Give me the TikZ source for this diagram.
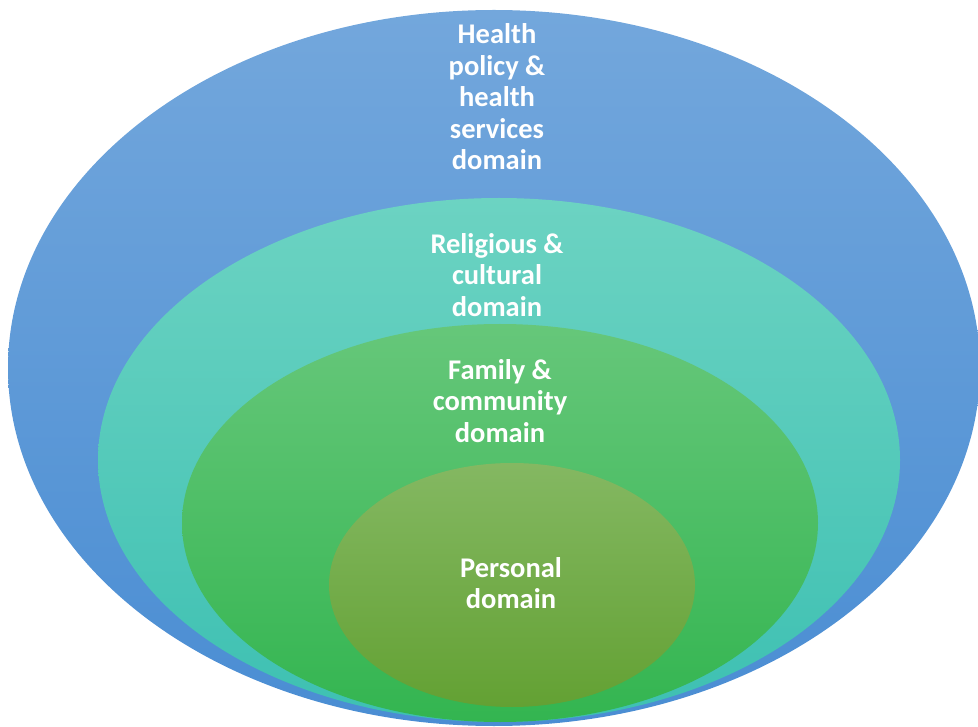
\documentclass[tikz,border=0pt]{standalone}
\usepackage{fontspec}
\setmainfont{Carlito}
\usetikzlibrary{shapes.geometric}
\definecolor{policyTop}{HTML}{73A7DC}
\definecolor{policyBot}{HTML}{4A8DD3}
\definecolor{cultureTop}{HTML}{6CD3C2}
\definecolor{cultureBot}{HTML}{3DC0B2}
\definecolor{familyTop}{HTML}{66C77A}
\definecolor{familyBot}{HTML}{33B550}
\definecolor{personTop}{HTML}{84B862}
\definecolor{personBot}{HTML}{63A133}
\tikzstyle{sphere}=[
	ellipse,
	inner sep=0pt,
	draw=none
]
\tikzstyle{spheretext}=[
	text=white,
	font=\bfseries\fontsize{28.5pt}{31.5pt}\selectfont,
	align=center,
	inner sep=0pt
]

\begin{document}
\begin{tikzpicture}[x=1pt,y=-1pt]
\useasboundingbox (0,0) rectangle (978,727);
\node [sphere, top color=policyTop, bottom color=policyBot,
	minimum width=972pt, minimum height=716pt] (Policy) at (494,368) {};
\node [sphere, top color=cultureTop, bottom color=cultureBot,
	minimum width=802pt, minimum height=524pt] (Culture) at (499,460) {};
\node [sphere, top color=familyTop, bottom color=familyBot,
	minimum width=636pt, minimum height=398pt] (Family) at (500,523) {};
\node [sphere, top color=personTop, bottom color=personBot,
	minimum width=366pt, minimum height=244pt] (Personal) at (512,585) {};
\node [spheretext] (PolicyText) at (497,97) {Health\\policy \&\\health\\services\\domain};
\node [spheretext] (CultureText) at (497,275) {Religious \&\\cultural\\domain};
\node [spheretext] (FamilyText) at (500,401) {Family \&\\community\\domain};
\node [spheretext] (PersonalText) at (511,583) {Personal\\domain};
\end{tikzpicture}
\end{document}
